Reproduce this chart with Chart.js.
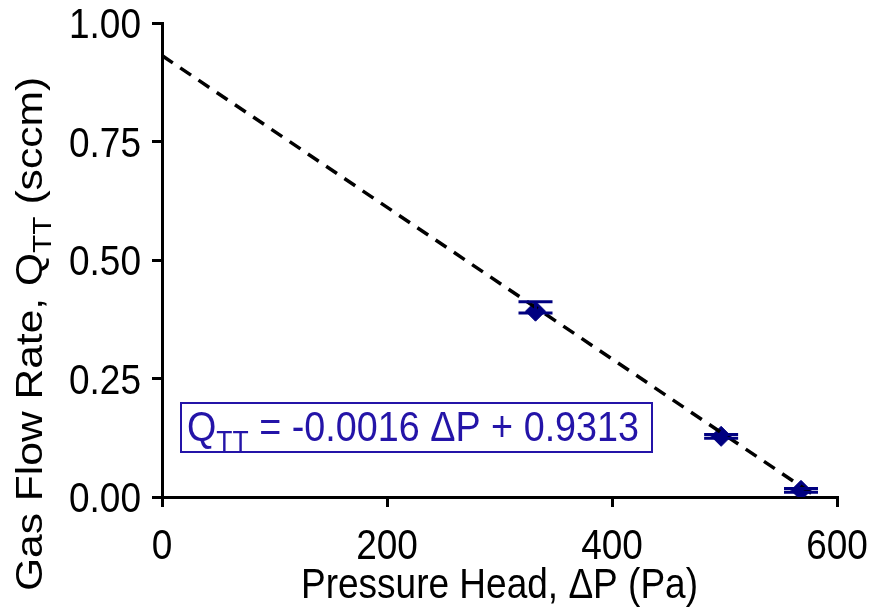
<!DOCTYPE html>
<html lang="en">
<head>
    <meta charset="UTF-8">
    <title>Gas Flow Rate vs Pressure Head</title>
    <script src="https://cdn.jsdelivr.net/npm/chart.js"></script>
    <style>
        body { margin: 0; background: #fff; }
        canvas { display: block; }
    </style>
</head>
<body>
    <canvas id="flowChart" width="869" height="609"></canvas>

    <script>
        // measured points
        const pressureHead = [332, 497, 568];
        const flowRate = [0.392, 0.128, 0.014];
        const flowLow = [0.388, 0.124, 0.010];
        const flowHigh = [0.412, 0.132, 0.018];

        // linear fit  Q = slope * dP + intercept
        const fitSlope = -0.0016;
        const fitIntercept = 0.9313;
        const fitRange = [0, 582];

        const xTicks = [0, 200, 400, 600];
        const yTicks = [0, 0.25, 0.5, 0.75, 1.0];

        const FONT = '"Liberation Sans", Arial, sans-serif';
        const NAVY = '#000080';
        const EQ_BLUE = '#2414a8';
        const SIZE = 37;      // main text size
        const SUB = 26;       // subscript size
        const TALL = 1.15;    // glyphs are a little taller than wide

        // error caps drawn on top of the markers
        const errorBars = {
            id: 'errorBars',
            afterDatasetsDraw(chart) {
                const { ctx, scales: { x, y } } = chart;
                ctx.save();
                ctx.strokeStyle = NAVY;
                ctx.lineWidth = 3;
                pressureHead.forEach((p, i) => {
                    const px = x.getPixelForValue(p);
                    const lo = y.getPixelForValue(flowLow[i]);
                    const hi = y.getPixelForValue(flowHigh[i]);
                    ctx.beginPath();
                    ctx.moveTo(px, lo); ctx.lineTo(px, hi);
                    ctx.moveTo(px - 17, lo); ctx.lineTo(px + 17, lo);
                    ctx.moveTo(px - 17, hi); ctx.lineTo(px + 17, hi);
                    ctx.stroke();
                });
                ctx.restore();
            }
        };

        // runs of [text, size, baselineShift]; drawn in a stretched frame
        function runsWidth(ctx, parts) {
            let w = 0;
            parts.forEach(([txt, size]) => {
                ctx.font = size + 'px ' + FONT;
                w += ctx.measureText(txt).width;
            });
            return w;
        }
        function drawRuns(ctx, parts, x, y, align, angle, sx, sy) {
            ctx.save();
            ctx.translate(x, y);
            ctx.rotate(angle || 0);
            ctx.scale(sx, sy);
            const w = runsWidth(ctx, parts);
            let cx = align === 'center' ? -w / 2 : align === 'right' ? -w : 0;
            ctx.textAlign = 'left';
            ctx.textBaseline = 'alphabetic';
            parts.forEach(([txt, size, dy]) => {
                ctx.font = size + 'px ' + FONT;
                ctx.fillText(txt, cx, dy);
                cx += ctx.measureText(txt).width;
            });
            ctx.restore();
        }

        const labels = {
            id: 'labels',
            afterDraw(chart) {
                const { ctx, chartArea, scales: { x, y } } = chart;
                ctx.save();
                ctx.fillStyle = '#000';

                // tick labels
                xTicks.forEach(v => {
                    drawRuns(ctx, [[String(v), SIZE, 0]], x.getPixelForValue(v), 559, 'center', 0, 1, TALL);
                });
                yTicks.forEach(v => {
                    drawRuns(ctx, [[v.toFixed(2), SIZE, 0]], 141, y.getPixelForValue(v) + 15, 'right', 0, 1, TALL);
                });

                // axis titles
                drawRuns(ctx, [['Pressure Head, \u0394P (Pa)', SIZE, 0]],
                    (chartArea.left + chartArea.right) / 2, 598, 'center', 0, 1, TALL);
                drawRuns(ctx, [['Gas Flow Rate, Q', SIZE, 0], ['TT', SUB, 9], [' (sccm)', SIZE, 0]],
                    42, 334, 'center', -Math.PI / 2, TALL, 1);

                // fit equation box
                ctx.strokeStyle = EQ_BLUE;
                ctx.lineWidth = 2;
                ctx.strokeRect(181, 403, 471, 49);
                ctx.fillStyle = EQ_BLUE;
                drawRuns(ctx, [['Q', SIZE, 0], ['TT', SUB, 9],
                    [' = ' + fitSlope.toFixed(4) + ' \u0394P + ' + fitIntercept.toFixed(4), SIZE, 0]],
                    187, 441, 'left', 0, 1.02, TALL);
                ctx.restore();
            }
        };

        const axisStyle = {
            border: { color: '#000', width: 3 },
            grid: { drawOnChartArea: false, drawTicks: true, tickLength: 10, color: '#000', lineWidth: 3 },
            ticks: { display: false }
        };

        new Chart(document.getElementById('flowChart'), {
            type: 'scatter',
            data: {
                datasets: [
                    {
                        type: 'line',
                        data: fitRange.map(p => ({ x: p, y: fitSlope * p + fitIntercept })),
                        borderColor: '#000',
                        borderWidth: 3.5,
                        borderDash: [13, 9],
                        pointRadius: 0,
                        fill: false
                    },
                    {
                        data: pressureHead.map((p, i) => ({ x: p, y: flowRate[i] })),
                        pointStyle: 'rectRot',
                        pointRadius: 10,
                        backgroundColor: NAVY,
                        borderColor: NAVY,
                        borderWidth: 1
                    }
                ]
            },
            options: {
                responsive: false,
                animation: false,
                layout: { padding: { top: 23, right: 32, left: 0, bottom: 0 } },
                plugins: { legend: { display: false }, tooltip: { enabled: false } },
                scales: {
                    x: {
                        type: 'linear',
                        min: xTicks[0],
                        max: xTicks[xTicks.length - 1],
                        afterBuildTicks: s => { s.ticks = xTicks.map(v => ({ value: v })); },
                        afterFit: s => { s.height = 112; },
                        ...axisStyle
                    },
                    y: {
                        min: yTicks[0],
                        max: yTicks[yTicks.length - 1],
                        afterBuildTicks: s => { s.ticks = yTicks.map(v => ({ value: v })); },
                        afterFit: s => { s.width = 162; },
                        ...axisStyle
                    }
                }
            },
            plugins: [errorBars, labels]
        });
    </script>
</body>
</html>
